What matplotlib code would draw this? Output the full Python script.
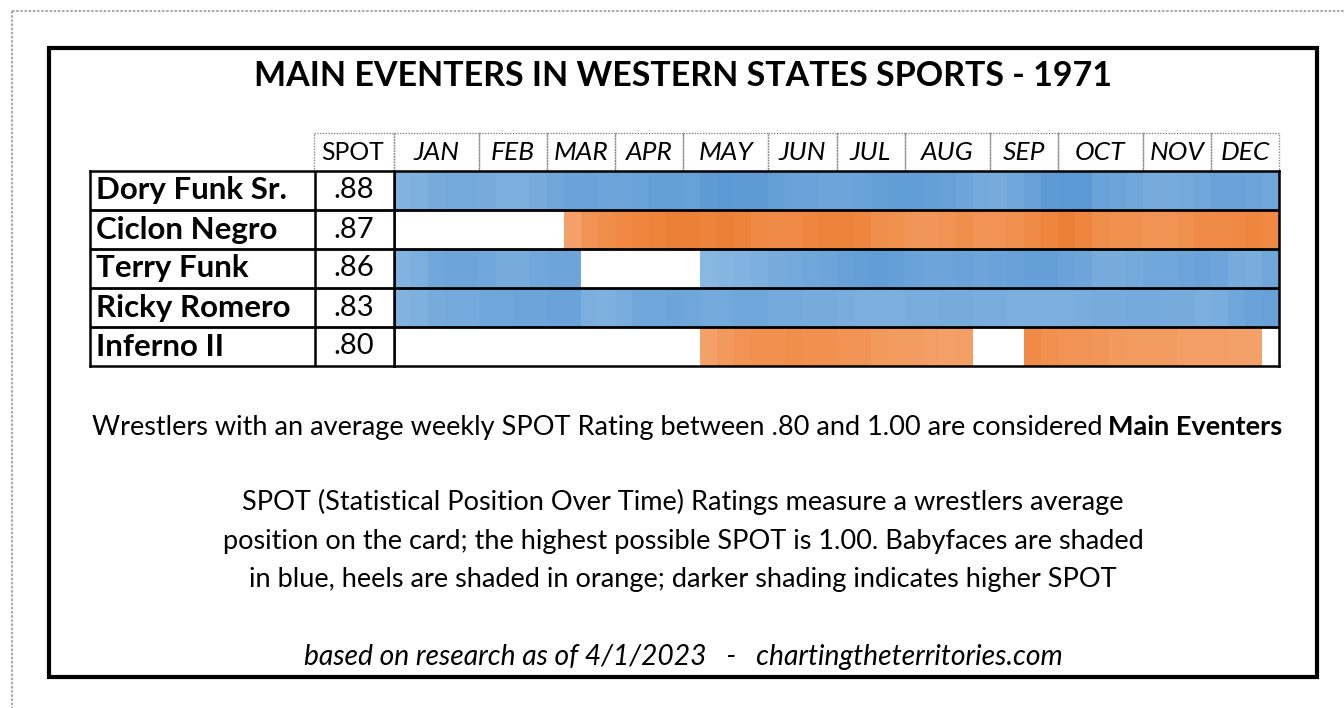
import numpy as np
import matplotlib
matplotlib.use('Agg')
import matplotlib.pyplot as plt
from matplotlib.colors import LinearSegmentedColormap, Normalize
from matplotlib.patches import Rectangle

plt.rcParams['font.family'] = ['Lato', 'DejaVu Sans']

nan = np.nan

# ---- data ------------------------------------------------------------
wrestlers = ['Dory Funk Sr.', 'Ciclon Negro', 'Terry Funk', 'Ricky Romero', 'Inferno II']
spot_avg = ['.88', '.87', '.86', '.83', '.80']
is_face = [True, False, True, True, False]
months = ['JAN', 'FEB', 'MAR', 'APR', 'MAY', 'JUN', 'JUL', 'AUG', 'SEP', 'OCT', 'NOV', 'DEC']
weeks_in_month = [5, 4, 4, 4, 5, 4, 4, 5, 4, 5, 4, 4]

# weekly SPOT (read off the shading), nan = not on the cards that week
dory_funk_sr = [.80, .81, .84, .85, .85, .84, .82, .82, .84, .86,
                .88, .88, .87, .87, .88, .90, .90, .89, .92, .93,
                .92, .92, .90, .88, .88, .87, .87, .88, .90, .91,
                .91, .90, .89, .87, .85, .84, .86, .89, .92, .93,
                .93, .88, .87, .86, .84, .84, .85, .86, .88, .88,
                .87, .86]
ciclon_negro = [nan] * 10 + [
                .80, .85, .87, .89, .90, .91, .92, .92, .91, .92,
                .91, .89, .88, .88, .90, .91, .91, .90, .87, .86,
                .84, .84, .85, .87, .85, .85, .86, .88, .90, .92,
                .90, .87, .86, .86, .85, .85, .86, .88, .88, .89,
                .90, .89]
terry_funk = [.80, .82, .86, .87, .87, .86, .84, .84, .86, .87, .87] + [nan] * 7 + [
              .78, .79, .80, .82, .84, .85, .86, .87, .89, .90,
              .91, .90, .88, .87, .87, .88, .87, .88, .89, .90,
              .90, .88, .87, .84, .84, .85, .86, .86, .87, .88,
              .87, .84, .83, .86]
ricky_romero = [.80, .81, .84, .85, .85, .86, .86, .87, .87, .88,
                .88, .82, .81, .83, .86, .86, .87, .86, .85, .85,
                .86, .86, .85, .85, .84, .84, .83, .82, .82, .82,
                .83, .83, .84, .84, .83, .83, .82, .82, .82, .82,
                .83, .84, .84, .85, .85, .84, .84, .82, .83, .86,
                .88, .89]
inferno_ii = [nan] * 18 + [
              .80, .83, .85, .86, .86, .87, .86, .86, .85, .85,
              .83, .82, .82, .81, .80, .81] + [nan] * 3 + [
              .88, .86, .85, .85, .84, .83, .82, .82, .82, .81,
              .81, .81, .80, .80] + [nan]

spot = np.array([dory_funk_sr, ciclon_negro, terry_funk, ricky_romero, inferno_ii], dtype=float)
n_rows, n_weeks = spot.shape

W, H = 1344, 708
fig = plt.figure(figsize=(W / 100, H / 100), dpi=100)
fig.patch.set_facecolor('white')


def fx(px):
    return px / W


def fy(py):
    return 1 - py / H


# ---- background / frame (pixel coords) --------------------------------
bg = fig.add_axes([0, 0, 1, 1])
bg.set_xlim(0, W)
bg.set_ylim(H, 0)
bg.axis('off')
bg.plot([12, 12], [11, H], color='#9a9a9a', lw=1.2, ls=(0, (1.5, 1)))
bg.plot([12, W], [11, 11], color='#9a9a9a', lw=1.2, ls=(0, (1.5, 1)))
bg.add_patch(Rectangle((49, 48), 1317 - 49, 677 - 48, fill=False, ec='black', lw=3))

bg.text(683, 76, 'MAIN EVENTERS IN WESTERN STATES SPORTS - 1971', ha='center', va='center',
        fontsize=24.5, fontweight='bold')

body = 19.5
bg.text(1103, 427, 'Wrestlers with an average weekly SPOT Rating between .80 and 1.00 are considered',
        ha='right', va='center', fontsize=body)
bg.text(1108, 427, 'Main Eventers', ha='left', va='center', fontsize=body, fontweight='bold')
bg.text(683, 502, 'SPOT (Statistical Position Over Time) Ratings measure a wrestlers average',
        ha='center', va='center', fontsize=body)
bg.text(683, 541, 'position on the card; the highest possible SPOT is 1.00. Babyfaces are shaded',
        ha='center', va='center', fontsize=body)
bg.text(683, 580, 'in blue, heels are shaded in orange; darker shading indicates higher SPOT',
        ha='center', va='center', fontsize=body)
bg.text(683, 657, 'based on research as of 4/1/2023   -   chartingtheterritories.com',
        ha='center', va='center', fontsize=20.3, fontstyle='italic')

# ---- heatmap -----------------------------------------------------------
top, bottom = 171, 366
ax = fig.add_axes([fx(394), fy(bottom), fx(1279 - 394), (bottom - top) / H])
blue_cmap = LinearSegmentedColormap.from_list('face', ['#8bb9e3', '#5897d3'])
orange_cmap = LinearSegmentedColormap.from_list('heel', ['#f5a974', '#ec7b2f'])
norm = Normalize(vmin=.77, vmax=.94)

faces = np.ma.masked_where(~np.array(is_face)[:, None] | np.isnan(spot), spot)
heels = np.ma.masked_where(np.array(is_face)[:, None] | np.isnan(spot), spot)
x_edges = np.arange(n_weeks + 1)
y_edges = np.arange(n_rows + 1)
ax.pcolormesh(x_edges, y_edges, faces, cmap=blue_cmap, norm=norm, linewidth=0)
ax.pcolormesh(x_edges, y_edges, heels, cmap=orange_cmap, norm=norm, linewidth=0)
ax.set_xlim(0, n_weeks)
ax.set_ylim(n_rows, 0)
ax.set_xticks([])
ax.set_yticks([])
ax.hlines(np.arange(1, n_rows), 0, n_weeks, color='black', lw=2)
for s in ax.spines.values():
    s.set_linewidth(1.8)

# month header with dotted cells
starts = np.concatenate([[0], np.cumsum(weeks_in_month)[:-1]])
for m, st, nw in zip(months, starts, weeks_in_month):
    ax.add_patch(Rectangle((st, -0.98), nw, 0.98, fill=False, ec='#8a8a8a', lw=1,
                           ls=(0, (1, 1)), clip_on=False))
    ax.text(st + nw / 2, -0.47, m, ha='center', va='center', fontsize=19,
            fontstyle='italic', clip_on=False)

# ---- names / SPOT table ------------------------------------------------
tab = fig.add_axes([fx(90), fy(bottom), fx(394 - 90), (bottom - top) / H])
tab.set_xlim(90, 394)
tab.set_ylim(n_rows, 0)
tab.set_xticks([])
tab.set_yticks([])
for s in tab.spines.values():
    s.set_linewidth(1.8)
tab.hlines(np.arange(1, n_rows), 90, 394, color='black', lw=2)
tab.vlines(315, 0, n_rows, color='black', lw=1.8)
tab.add_patch(Rectangle((314, -0.98), 80, 0.98, fill=False, ec='#8a8a8a', lw=1,
                        ls=(0, (1, 1)), clip_on=False))
tab.text(353, -0.47, 'SPOT', ha='center', va='center', fontsize=17.8, clip_on=False)
for i, (name, val) in enumerate(zip(wrestlers, spot_avg)):
    tab.text(96, i + 0.5, name, ha='left', va='center', fontsize=22.5, fontweight='bold')
    tab.text(354, i + 0.5, val, ha='center', va='center', fontsize=21)

fig.savefig('out.png', dpi=100, facecolor='white')
